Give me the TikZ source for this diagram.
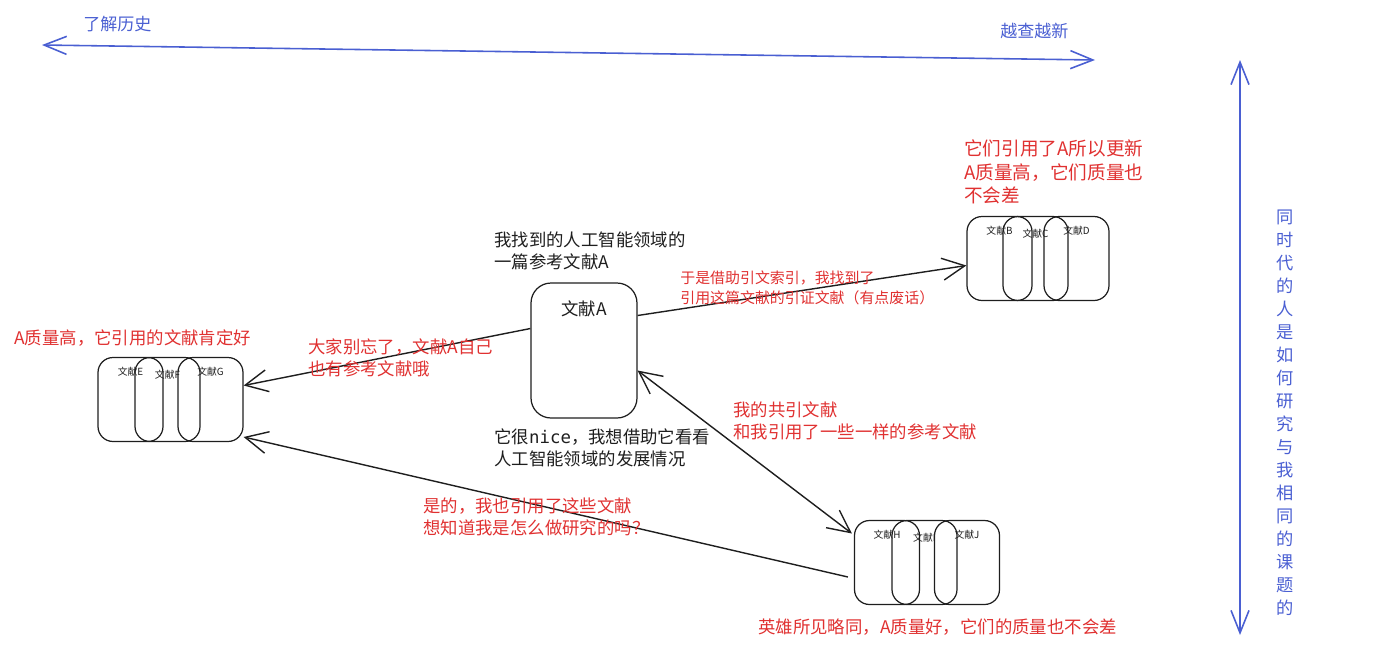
\documentclass[tikz,border=0pt]{standalone}
\usepackage{fontspec}
\setmainfont{Noto Sans CJK SC}
\newfontfamily\monofont{DejaVu Sans Mono}
\usetikzlibrary{arrows.meta}
\definecolor{xred}{RGB}{224,49,49}
\definecolor{xblue}{RGB}{74,95,210}
\definecolor{xink}{RGB}{30,30,30}
\tikzset{
  doc/.style={draw=xink, line width=0.7pt, rounded corners=0.3cm,
    minimum width=1.3cm, minimum height=1.68cm},
  doclbl/.style={font=\fontsize{5.6}{6}\selectfont, text=xink, anchor=north,
    inner sep=0pt, yshift=-0.2cm},
  txt/.style={anchor=west, inner sep=0pt, align=left, text=xink,
    font=\fontsize{9.9}{12.5}\selectfont},
  note/.style={txt, text=xred},
  smallnote/.style={note, font=\fontsize{8.5}{11.3}\selectfont},
  axislbl/.style={txt, text=xblue, font=\fontsize{9.7}{12}\selectfont},
  citearrow/.style={draw=xink, line width=0.8pt,
    -{Straight Barb[length=4.5mm,width=4.4mm]}},
  axisarrow/.style={draw=xblue, line width=0.9pt,
    {Straight Barb[length=4.5mm,width=3.6mm]}-{Straight Barb[length=4.5mm,width=3.6mm]}}
}
\begin{document}
\begin{tikzpicture}[x=0.02cm,y=-0.02cm]
\useasboundingbox (0,0) rectangle (1377,664);
\coordinate (histL) at (42,45);
\coordinate (histR) at (1095,60);
\coordinate (timeT) at (1240,60);
\coordinate (timeB) at (1240,635);
\draw [axisarrow] (histL) -- (histR);
\draw [axisarrow] (timeT) -- (timeB);
\node [axislbl] (histTxt) at (83,24) {了解历史};
\node [axislbl] (newTxt) at (1000,31) {越查越新};
\node [axislbl, anchor=center, align=center, font=\fontsize{9.8}{13.1}\selectfont]
  (sameTxt) at (1285,413) {同\\时\\代\\的\\人\\是\\如\\何\\研\\究\\与\\我\\相\\同\\的\\课\\题\\的};

\node [doc, minimum width=2.12cm, minimum height=2.7cm, rounded corners=0.4cm]
  (docA) at (584,350.5) {};
\node [txt, anchor=center] (docAtitle) at (584,309) {文献A};
\node [txt] (foundTxt) at (494,251) {我找到的人工智能领域的\\一篇参考文献A};
\node [txt] (niceTxt) at (494,448) {它很{\monofont nice}，我想借助它看看\\人工智能领域的发展情况};

\node [doc, label={[doclbl]north:文献B}] (docB) at (999.5,258.5) {};
\node [doc, label={[doclbl,yshift=-0.06cm]north:文献C}] (docC) at (1035.5,258.5) {};
\node [doc, label={[doclbl]north:文献D}] (docD) at (1076.5,258.5) {};

\node [doc, label={[doclbl]north:文献E}] (docE) at (130.5,399.5) {};
\node [doc, label={[doclbl,yshift=-0.06cm]north:文献F}] (docF) at (167.5,399.5) {};
\node [doc, label={[doclbl]north:文献G}] (docG) at (210.5,399.5) {};

\node [doc, label={[doclbl]north:文献H}] (docH) at (887,562.5) {};
\node [doc, label={[doclbl,yshift=-0.06cm]north:文献I}] (docI) at (924.5,562.5) {};
\node [doc, label={[doclbl]north:文献J}] (docJ) at (967,562.5) {};

\draw [citearrow] ([yshift=0.7cm]docA.east) -- ([yshift=-0.14cm]docB.west);
\draw [citearrow] ([yshift=0.44cm]docA.west) -- ([yshift=0.28cm]docG.east);
\draw [citearrow, {Straight Barb[length=4.5mm,width=4.4mm]}-{Straight Barb[length=4.5mm,width=4.4mm]}]
  ([yshift=-0.4cm]docA.east) -- ([xshift=-0.04cm,yshift=0.58cm]docH.west);
\draw [citearrow] ([xshift=-0.12cm,yshift=-0.29cm]docH.west) -- ([yshift=-0.75cm]docG.east);

\node [smallnote] (citingTxt) at (680,288) {于是借助引文索引，我找到了\\引用这篇文献的引证文献（有点废话）};
\node [note] (refsTxt) at (308,358) {大家别忘了，文献A自己\\也有参考文献哦};
\node [note] (cocitTxt) at (733,421) {我的共引文献\\和我引用了一些一样的参考文献};
\node [note] (yesTxt) at (423,517) {是的，我也引用了这些文献\\想知道我是怎么做研究的吗？};
\node [note] (noteE) at (14,338) {A质量高，它引用的文献肯定好};
\node [note, font=\fontsize{10.6}{13.3}\selectfont] (noteB) at (964,172) {它们引用了A所以更新\\A质量高，它们质量也\\不会差};
\node [note] (noteH) at (758,627) {英雄所见略同，A质量好，它们的质量也不会差};
\end{tikzpicture}
\end{document}
